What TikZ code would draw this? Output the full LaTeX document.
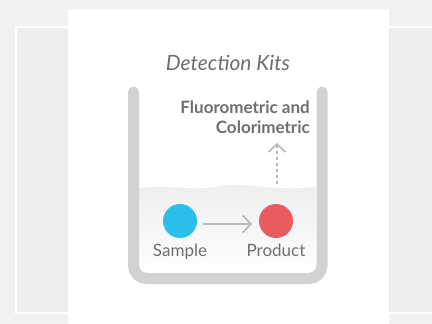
\documentclass[tikz,border=0pt]{standalone}
\usepackage{fontspec}
\setmainfont{Lato}
\usetikzlibrary{arrows.meta, positioning}
\definecolor{pagegray}{HTML}{F0F1F2}
\definecolor{framegray}{HTML}{EDEEF0}
\definecolor{cupgray}{HTML}{D1D2D4}
\definecolor{liquidgray}{HTML}{EDEEEF}
\definecolor{textgray}{HTML}{6D6E71}
\definecolor{arrowgray}{HTML}{B9BABC}
\definecolor{samplecyan}{HTML}{2BBFEA}
\definecolor{productred}{HTML}{E85B5E}
\tikzstyle{blob} = [circle, minimum size=34pt, inner sep=0pt]
\tikzstyle{caption} = [text=textgray, inner sep=0pt, font=\fontsize{17}{20}\selectfont]
\tikzstyle{flow} = [draw=arrowgray, line width=1.8pt, -{Straight Barb[length=8pt, width=17pt]}]

\begin{document}
\begin{tikzpicture}[x=1pt, y=-1pt, node distance=6pt]
\useasboundingbox (0,0) rectangle (432,324);
% page and card
\fill[pagegray] (0,0) rectangle (432,324);
\fill[framegray] (16,27) rectangle (434,313);
\draw[white, line width=2pt] (16,27) rectangle (440,313);
\fill[white] (68,9) rectangle (389,330);
\node (title) [text=textgray, font=\itshape\fontsize{21}{24}\selectfont] at (228,63) {Detection Kits};
% liquid in the cup
\shade[top color=liquidgray, bottom color=white!96!liquidgray]
  (139,188) .. controls (170,184) and (190,192) .. (220,186)
  .. controls (245,181) and (270,192) .. (316,187)
  -- (316,266) [rounded corners=6pt] -- (316,273) -- (139,273) [sharp corners] -- (139,266) -- cycle;
% cup
\draw[cupgray, line width=11pt, line cap=round, rounded corners=13pt]
  (133.5,92) -- (133.5,278.5) -- (322,278.5) -- (322,92);
% reaction
\node (sample) [blob, fill=samplecyan] at (180,221) {};
\node (product) [blob, fill=productred] at (276,221) {};
\node (samplelbl) [caption, below=of sample] {Sample};
\node (productlbl) [caption, below=of product] {Product};
\coordinate (from) at (203,224);
\coordinate (to) at (252,224);
\draw [flow] (from) -- (to);
\node (readout) [text=textgray, font=\bfseries\fontsize{17}{20}\selectfont, align=right, anchor=north east, inner sep=0pt] at (310,101) {Fluorometric and\\Colorimetric};
\coordinate (surface) at (277,184);
\coordinate (up) at (277,143);
\draw [flow, line width=1.6pt, dash pattern=on 3.5pt off 2.5pt] (surface) -- (up);
\end{tikzpicture}
\end{document}
